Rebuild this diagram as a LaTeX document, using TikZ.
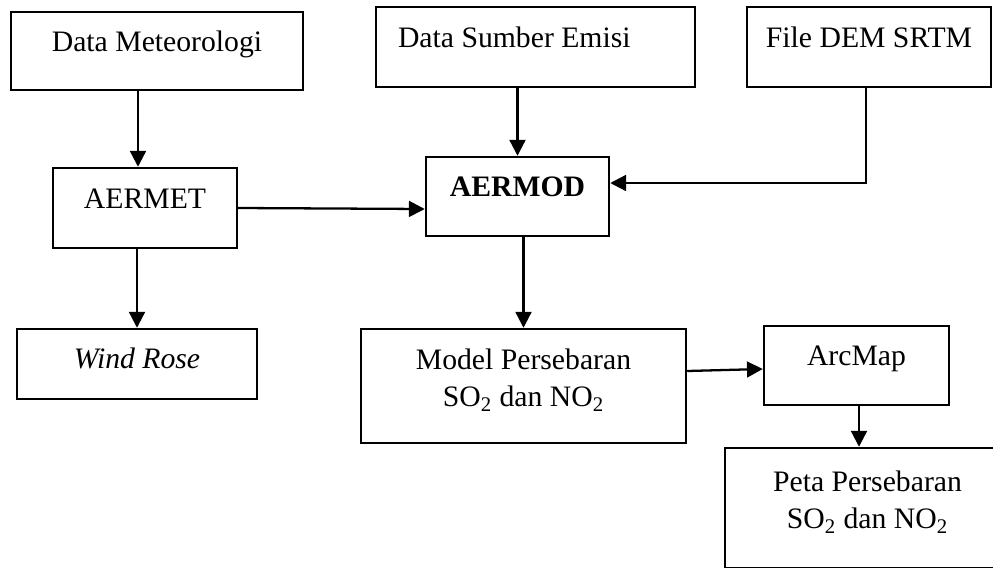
\documentclass[tikz,border=0pt]{standalone}
\usepackage{fontspec}
\setmainfont{Liberation Serif}
\usetikzlibrary{arrows.meta}

\tikzset{
	box/.style={draw, line width=1.4pt, inner sep=0pt, text height=0.35cm, text depth=0.35cm},
	twoline/.style={text width=5cm, align=flush center, text height=0.4cm, text depth=1.08cm},
	arr/.style={line width=1.3pt, -{Triangle[length=9pt,width=9pt]}}
}

\begin{document}
\begin{tikzpicture}[font=\fontsize{16.9}{21.6}\selectfont]
	\useasboundingbox (0,0) rectangle (19.86,-11.34);
	\clip (0,0) rectangle (19.86,-11.34);
	
	\node[box, minimum width=5.84cm, minimum height=1.56cm] (met) at (3.14,-1.02) {Data Meteorologi};
	\node[box, minimum width=6.38cm, minimum height=1.6cm, text width=5.5cm, align=flush left] (emisi) at (10.71,-0.94) {Data Sumber Emisi};
	\node[box, minimum width=4.88cm, minimum height=1.6cm] (dem) at (17.38,-0.94) {File DEM SRTM};
	
	\node[box, minimum width=3.68cm, minimum height=1.6cm] (aermet) at (2.90,-4.16) {AERMET};
	\node[box, minimum width=3.66cm, minimum height=1.58cm, font=\fontsize{16.9}{21.6}\selectfont\bfseries] (aermod) at (10.35,-3.93) {AERMOD};
	
	\node[box, minimum width=4.8cm, minimum height=1.4cm, text height=0.44cm, text depth=0.26cm] (wind) at (2.74,-7.28) {\textit{Wind Rose}};
	\node[box, twoline, minimum width=6.5cm, minimum height=2.28cm] (model) at (10.47,-7.72) {Model Persebaran\\SO\textsubscript{2} dan NO\textsubscript{2}};
	\node[box, minimum width=3.7cm, minimum height=1.58cm] (arcmap) at (17.13,-7.31) {ArcMap};
	\node[box, twoline, minimum width=5.7cm, minimum height=2.4cm] (peta) at (17.35,-10.16) {Peta Persebaran\\SO\textsubscript{2} dan NO\textsubscript{2}};
	
	\draw[arr] ([xshift=-0.38cm]met.south) -- ([xshift=-0.38cm]met.south |- aermet.north);
	\draw[arr] (emisi.south -| aermod.north) -- (aermod.north);
	\draw[arr] ([xshift=-0.06cm]dem.south) |- ([yshift=0.27cm]aermod.east);
	\draw[arr] (aermet.east) -- ([yshift=-0.25cm]aermod.west);
	\draw[arr] (aermet.south -| wind.north) -- (wind.north);
	\draw[arr] (aermod.south -| model.north) -- (model.north);
	\draw[arr] ([yshift=0.3cm]model.east) -- ([yshift=-0.07cm]arcmap.west);
	\draw[arr] ([xshift=0.05cm]arcmap.south) -- ([xshift=0.05cm]arcmap.south |- peta.north);
	
\end{tikzpicture}
\end{document}
